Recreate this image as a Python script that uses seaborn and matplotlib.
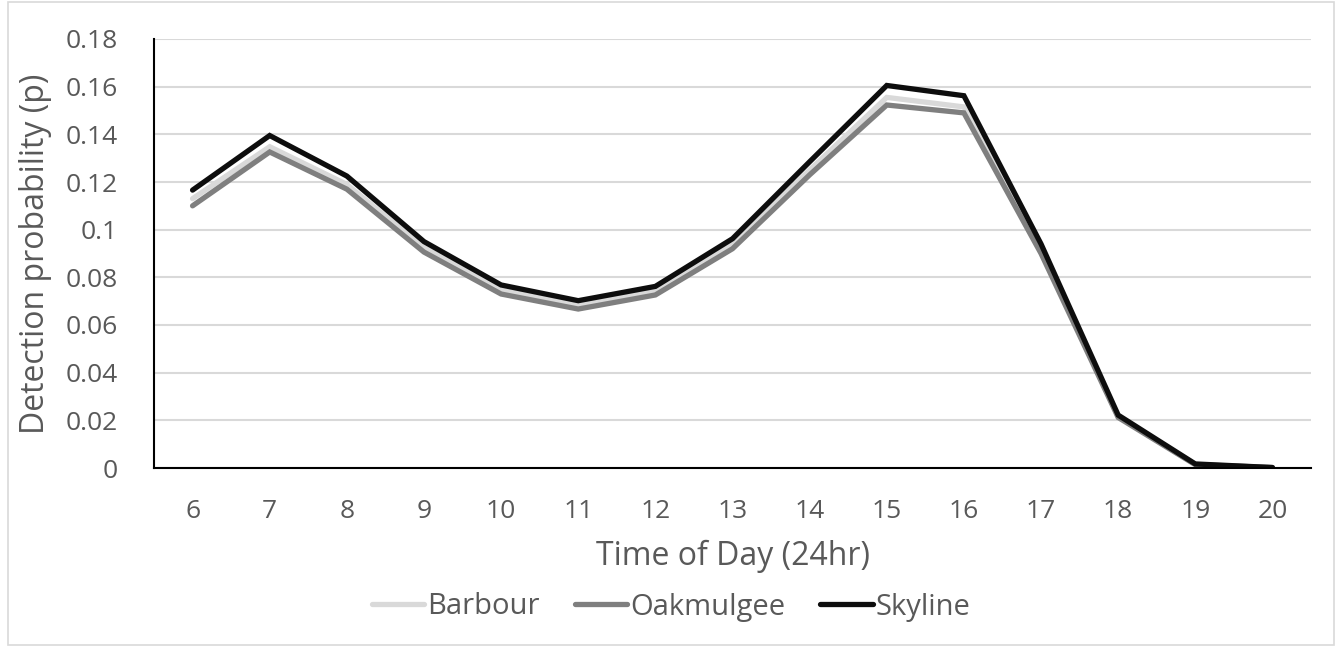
import numpy as np
import pandas as pd
import matplotlib
matplotlib.use("Agg")
import matplotlib.pyplot as plt
import seaborn as sns

# hour of day and detection probability per site
hours = [6, 7, 8, 9, 10, 11, 12, 13, 14, 15, 16, 17, 18, 19, 20]
barbour = [0.113, 0.1348, 0.1190, 0.0925, 0.0750, 0.0683, 0.0743, 0.0940, 0.1250, 0.1555, 0.1515, 0.0915, 0.0216, 0.0015, 0.0002]
oakmulgee = [0.110, 0.1326, 0.1170, 0.0906, 0.0730, 0.0667, 0.0726, 0.0920, 0.1230, 0.1523, 0.1490, 0.0900, 0.0212, 0.0014, 0.0002]
skyline = [0.1166, 0.1395, 0.1225, 0.0950, 0.0768, 0.0702, 0.0762, 0.0962, 0.1285, 0.1605, 0.1562, 0.0940, 0.0222, 0.0017, 0.0002]

sites = ["Barbour", "Oakmulgee", "Skyline"]
colors = ["#d9d9d9", "#7f7f7f", "#0d0d0d"]

df = pd.DataFrame({
    "hour": hours * 3,
    "p": barbour + oakmulgee + skyline,
    "site": np.repeat(sites, len(hours)),
})

sns.set_theme(style="white")
plt.rcParams["font.family"] = ["Open Sans", "DejaVu Sans"]
text_color = "#595959"

fig = plt.figure(figsize=(13.42, 6.47), dpi=100)
fig.patch.set_facecolor("white")
fig.patches.append(plt.Rectangle((8 / 1342, 2 / 647), 1 - 16 / 1342, 1 - 4 / 647,
                                 transform=fig.transFigure, fill=False,
                                 edgecolor="#d9d9d9", linewidth=1.2))
ax = fig.add_axes([154 / 1342, 1 - 468 / 647, (1311 - 154) / 1342, (468 - 39) / 647])

sns.lineplot(data=df, x="hour", y="p", hue="site", hue_order=sites,
             palette=dict(zip(sites, colors)), linewidth=3.8, ax=ax,
             estimator=None, sort=False)
for line in ax.get_lines():
    line.set_solid_joinstyle("miter")

ax.set_xlim(5.5, 20.5)
ax.set_ylim(0, 0.18)
ax.set_xticks(hours)
ax.set_xticklabels([str(h) for h in hours])
yt = np.arange(0, 0.181, 0.02)
ax.set_yticks(yt)
ax.set_yticklabels(["0", "0.02", "0.04", "0.06", "0.08", "0.1", "0.12", "0.14", "0.16", "0.18"])
ax.tick_params(axis="both", labelsize=19, colors=text_color, length=0)
ax.tick_params(axis="y", pad=26)
ax.tick_params(axis="x", pad=22)
ax.yaxis.grid(True, color="#d9d9d9", linewidth=1.5)
ax.set_axisbelow(True)
for s in ["top", "right"]:
    ax.spines[s].set_visible(False)
for s in ["left", "bottom"]:
    ax.spines[s].set_color("black")
    ax.spines[s].set_linewidth(1.5)

ax.set_xlabel("Time of Day (24hr)", fontsize=23, color=text_color, labelpad=12)
ax.set_ylabel("Detection probability (p)", fontsize=23, color=text_color, labelpad=10)

handles, labels = ax.get_legend_handles_labels()
ax.legend(handles, labels, loc="center", bbox_to_anchor=(0.5, (647 - 607) / 647),
          bbox_transform=fig.transFigure, ncol=3, frameon=False, fontsize=21,
          labelcolor=text_color, handlelength=1.8, handletextpad=0.1, columnspacing=1.2)

fig.savefig("out.png", dpi=100)
